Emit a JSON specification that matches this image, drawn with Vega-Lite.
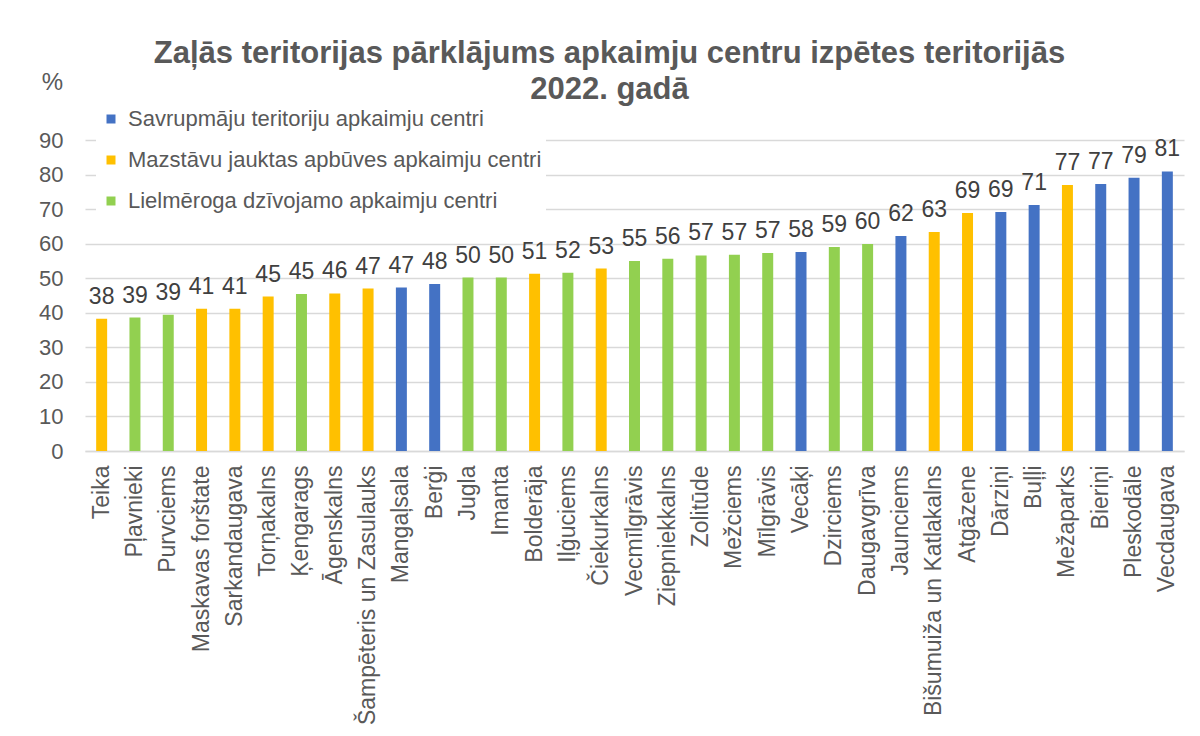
{
  "$schema": "https://vega.github.io/schema/vega-lite/v6.json",
  "width": 1099,
  "height": 311,
  "autosize": {"type": "none"},
  "padding": {"left": 85, "top": 140, "right": 16, "bottom": 285},
  "background": "white",
  "title": {
    "text": ["Zaļās teritorijas pārklājums apkaimju centru izpētes teritorijās", "2022. gadā"],
    "anchor": "middle",
    "frame": "group",
    "dx": -25,
    "font": "Liberation Sans",
    "fontSize": 31,
    "fontWeight": "bold",
    "color": "#595959",
    "lineHeight": 36,
    "offset": -36
  },
  "data": {
    "values": [
      {"apkaime": "Teika", "tips": "Mazstāvu jauktas apbūves apkaimju centri", "vertiba": 38.3},
      {"apkaime": "Pļavnieki", "tips": "Lielmēroga dzīvojamo apkaimju centri", "vertiba": 38.6},
      {"apkaime": "Purvciems", "tips": "Lielmēroga dzīvojamo apkaimju centri", "vertiba": 39.4},
      {"apkaime": "Maskavas forštate", "tips": "Mazstāvu jauktas apbūves apkaimju centri", "vertiba": 41.2},
      {"apkaime": "Sarkandaugava", "tips": "Mazstāvu jauktas apbūves apkaimju centri", "vertiba": 41.2},
      {"apkaime": "Torņakalns", "tips": "Mazstāvu jauktas apbūves apkaimju centri", "vertiba": 44.7},
      {"apkaime": "Ķengarags", "tips": "Lielmēroga dzīvojamo apkaimju centri", "vertiba": 45.4},
      {"apkaime": "Āgenskalns", "tips": "Mazstāvu jauktas apbūves apkaimju centri", "vertiba": 45.6},
      {"apkaime": "Šampēteris un Zasulauks", "tips": "Mazstāvu jauktas apbūves apkaimju centri", "vertiba": 47.0},
      {"apkaime": "Mangaļsala", "tips": "Savrupmāju teritoriju apkaimju centri", "vertiba": 47.3},
      {"apkaime": "Berģi", "tips": "Savrupmāju teritoriju apkaimju centri", "vertiba": 48.3},
      {"apkaime": "Jugla", "tips": "Lielmēroga dzīvojamo apkaimju centri", "vertiba": 50.2},
      {"apkaime": "Imanta", "tips": "Lielmēroga dzīvojamo apkaimju centri", "vertiba": 50.2},
      {"apkaime": "Bolderāja", "tips": "Mazstāvu jauktas apbūves apkaimju centri", "vertiba": 51.3},
      {"apkaime": "Iļģuciems", "tips": "Lielmēroga dzīvojamo apkaimju centri", "vertiba": 51.6},
      {"apkaime": "Čiekurkalns", "tips": "Mazstāvu jauktas apbūves apkaimju centri", "vertiba": 52.8},
      {"apkaime": "Vecmīlgrāvis", "tips": "Lielmēroga dzīvojamo apkaimju centri", "vertiba": 55.0},
      {"apkaime": "Ziepniekkalns", "tips": "Lielmēroga dzīvojamo apkaimju centri", "vertiba": 55.6},
      {"apkaime": "Zolitūde", "tips": "Lielmēroga dzīvojamo apkaimju centri", "vertiba": 56.6},
      {"apkaime": "Mežciems", "tips": "Lielmēroga dzīvojamo apkaimju centri", "vertiba": 56.8},
      {"apkaime": "Mīlgrāvis", "tips": "Lielmēroga dzīvojamo apkaimju centri", "vertiba": 57.3},
      {"apkaime": "Vecāķi", "tips": "Savrupmāju teritoriju apkaimju centri", "vertiba": 57.6},
      {"apkaime": "Dzirciems", "tips": "Lielmēroga dzīvojamo apkaimju centri", "vertiba": 59.0},
      {"apkaime": "Daugavgrīva", "tips": "Lielmēroga dzīvojamo apkaimju centri", "vertiba": 59.9},
      {"apkaime": "Jaunciems", "tips": "Savrupmāju teritoriju apkaimju centri", "vertiba": 62.2},
      {"apkaime": "Bišumuiža un Katlakalns", "tips": "Mazstāvu jauktas apbūves apkaimju centri", "vertiba": 63.4},
      {"apkaime": "Atgāzene", "tips": "Mazstāvu jauktas apbūves apkaimju centri", "vertiba": 68.9},
      {"apkaime": "Dārziņi", "tips": "Savrupmāju teritoriju apkaimju centri", "vertiba": 69.2},
      {"apkaime": "Buļļi", "tips": "Savrupmāju teritoriju apkaimju centri", "vertiba": 71.2},
      {"apkaime": "Mežaparks", "tips": "Mazstāvu jauktas apbūves apkaimju centri", "vertiba": 77.0},
      {"apkaime": "Bieriņi", "tips": "Savrupmāju teritoriju apkaimju centri", "vertiba": 77.3},
      {"apkaime": "Pleskodāle", "tips": "Savrupmāju teritoriju apkaimju centri", "vertiba": 79.1},
      {"apkaime": "Vecdaugava", "tips": "Savrupmāju teritoriju apkaimju centri", "vertiba": 80.9}
    ]
  },
  "encoding": {
    "x": {
      "field": "apkaime",
      "type": "nominal",
      "sort": null,
      "scale": {"paddingInner": 0.67, "paddingOuter": 0.335},
      "axis": {
        "title": null,
        "labelAngle": -90,
        "labelPadding": 14,
        "labelFont": "Liberation Sans",
        "labelFontSize": 23,
        "labelColor": "#595959",
        "ticks": false,
        "domainColor": "#d9d9d9",
        "domainWidth": 1.5,
        "labelLimit": 400
      }
    },
    "y": {
      "field": "vertiba",
      "type": "quantitative",
      "scale": {"domain": [0, 90], "nice": false},
      "axis": {
        "title": "%",
        "titleAngle": 0,
        "titleX": -33,
        "titleY": -58,
        "titleAlign": "center",
        "titleBaseline": "middle",
        "titleFont": "Liberation Sans",
        "titleFontSize": 24,
        "titleFontWeight": "normal",
        "titleColor": "#595959",
        "values": [0, 10, 20, 30, 40, 50, 60, 70, 80, 90],
        "labelFont": "Liberation Sans",
        "labelFontSize": 22,
        "labelColor": "#595959",
        "labelPadding": 22,
        "ticks": false,
        "domain": false,
        "gridColor": "#d9d9d9",
        "gridWidth": 1.3
      }
    }
  },
  "layer": [
    {
      "mark": {"type": "bar"},
      "encoding": {
        "color": {
          "field": "tips",
          "type": "nominal",
          "scale": {
            "domain": ["Savrupmāju teritoriju apkaimju centri", "Mazstāvu jauktas apbūves apkaimju centri", "Lielmēroga dzīvojamo apkaimju centri"],
            "range": ["#4472C4", "#FFC000", "#92D050"]
          },
          "legend": {
            "title": null,
            "orient": "none",
            "legendX": 11,
            "legendY": -36,
            "direction": "vertical",
            "fillColor": "white",
            "padding": 4,
            "symbolType": "square",
            "symbolSize": 81,
            "symbolStrokeWidth": 0,
            "labelFont": "Liberation Sans",
            "labelFontSize": 22,
            "labelColor": "#595959",
            "labelOffset": 6,
            "labelLimit": 500,
            "rowPadding": 19
          }
        }
      }
    },
    {
      "mark": {"type": "text", "baseline": "alphabetic", "dy": -15, "font": "Liberation Sans", "fontSize": 23, "color": "#404040"},
      "encoding": {
        "text": {"field": "vertiba", "type": "quantitative", "format": ".0f"}
      }
    }
  ],
  "config": {
    "view": {"stroke": null}
  }
}
